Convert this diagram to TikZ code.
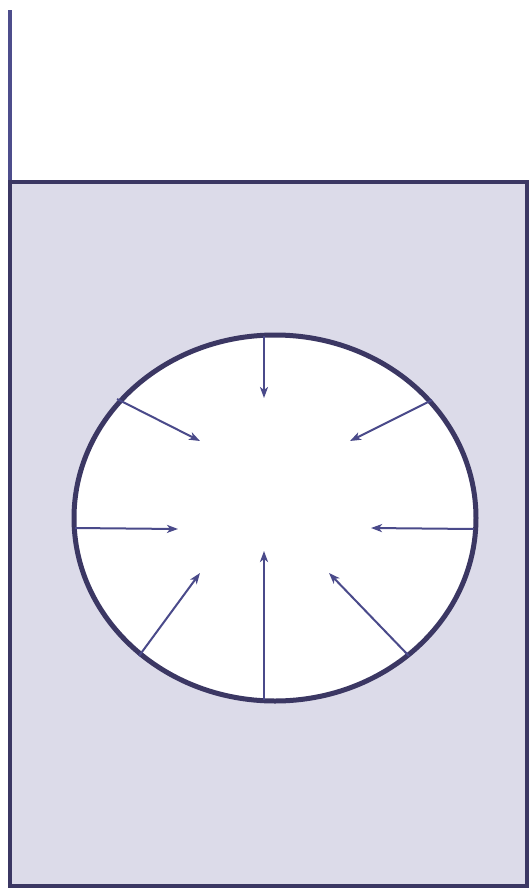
\documentclass[tikz,border=0pt]{standalone}
\usetikzlibrary{arrows.meta}
\definecolor{frame}{HTML}{3B3763}
\definecolor{fillc}{HTML}{DCDBE9}
\definecolor{arrc}{HTML}{4A4A8A}
\definecolor{stick}{HTML}{4D4E8C}
\tikzset{
  wall/.style={draw=frame,line width=4.5pt},
  force/.style={draw=arrc,line width=2pt,-{Stealth[length=11pt,width=8pt,inset=3pt]}}
}
\begin{document}
\begin{tikzpicture}[x=1pt,y=-1pt]
\useasboundingbox (0,0) rectangle (530,889);
\draw[stick,line width=4pt] (10,10) -- (10,182);
\draw[wall,fill=fillc] (10,182) rectangle (527,886);
\draw[wall,line width=5pt,fill=white] (275,518) ellipse [x radius=201,y radius=183];
\coordinate (t0) at (264,336); \coordinate (t1) at (264,398);
\coordinate (ul0) at (117,399); \coordinate (ul1) at (200,441);
\coordinate (ur0) at (432,400); \coordinate (ur1) at (350,441);
\coordinate (l0) at (75,528); \coordinate (l1) at (178,529);
\coordinate (r0) at (474,529); \coordinate (r1) at (371,528);
\coordinate (ll0) at (139,656); \coordinate (ll1) at (200,573);
\coordinate (b0) at (264,700); \coordinate (b1) at (264,551);
\coordinate (lr0) at (409,656); \coordinate (lr1) at (329,573);
\foreach \a in {t,ul,ur,l,r,ll,b,lr} \draw[force] (\a0) -- (\a1);
\end{tikzpicture}
\end{document}
